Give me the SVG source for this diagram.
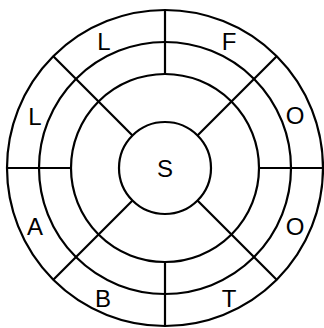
<svg xmlns="http://www.w3.org/2000/svg" width="324" height="328" viewBox="0 0 324 328">
<style>
.r{fill:none;stroke:#000;stroke-width:2.2}
.l{stroke:#000;stroke-width:2.2;stroke-linecap:butt}
.t{font-family:"Liberation Sans",Arial,sans-serif;font-size:24px;fill:#000;text-anchor:middle}
</style>
<rect width="324" height="328" fill="#fff"/>
<g id="rings">
<circle class="r" cx="165" cy="168" r="158"/>
<circle class="r" cx="165" cy="168" r="126"/>
<circle class="r" cx="165" cy="168" r="94"/>
<circle class="r" cx="165" cy="168" r="46"/>
</g>
<g id="dividers">
<line class="l" x1="165" y1="10" x2="165" y2="74"/>
<line class="l" x1="165" y1="262" x2="165" y2="326"/>
<line class="l" x1="7" y1="168" x2="71" y2="168"/>
<line class="l" x1="259" y1="168" x2="323" y2="168"/>
<line class="l" x1="132.5" y1="135.5" x2="53.3" y2="56.3"/>
<line class="l" x1="197.5" y1="135.5" x2="276.7" y2="56.3"/>
<line class="l" x1="132.5" y1="200.5" x2="53.3" y2="279.7"/>
<line class="l" x1="197.5" y1="200.5" x2="276.7" y2="279.7"/>
</g>
<g id="labels">
<text class="t" x="104" y="50">L</text>
<text class="t" x="229" y="50">F</text>
<text class="t" x="295" y="124">O</text>
<text class="t" x="295" y="235">O</text>
<text class="t" x="35" y="125">L</text>
<text class="t" x="35" y="235">A</text>
<text class="t" x="103" y="307">B</text>
<text class="t" x="229" y="307">T</text>
<text class="t" x="165" y="177">S</text>
</g>
</svg>
